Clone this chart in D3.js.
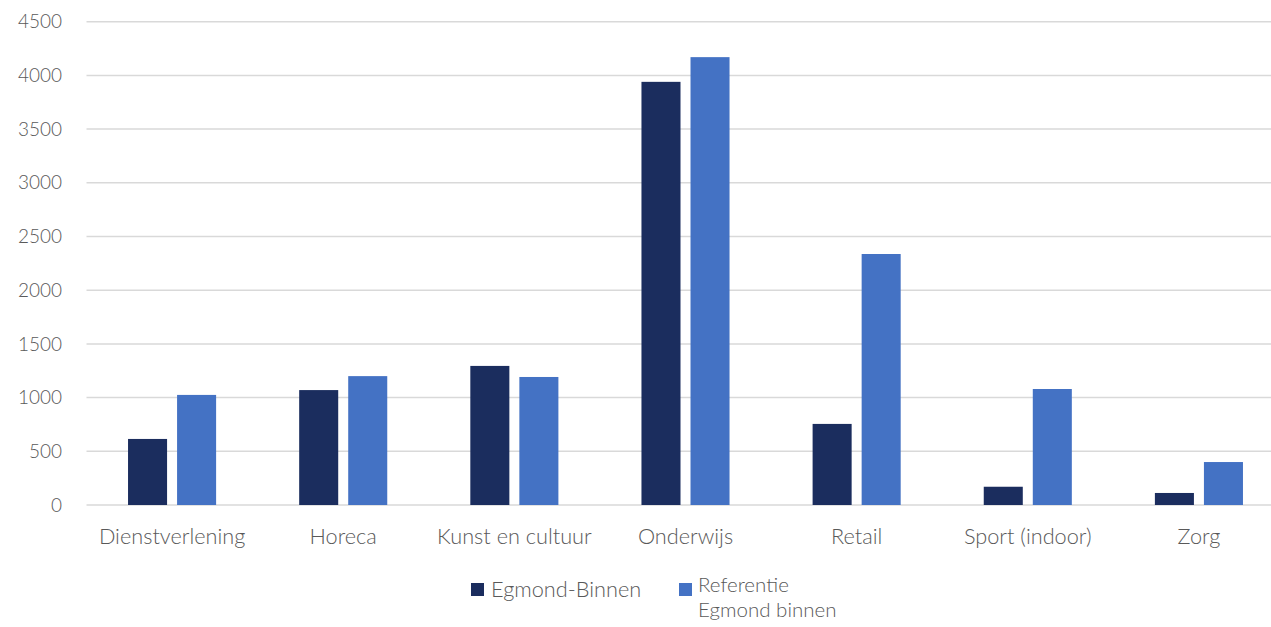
<!DOCTYPE html>
<html>
<head>
  <meta charset="utf-8">
  <title>Egmond-Binnen bar chart</title>
  <script src="https://d3js.org/d3.v7.min.js"></script>
  <style>
    body { margin: 0; background: #fff; }
    text { font-family: Lato, "Open Sans", sans-serif; font-weight: 300; fill: #595959; }
  </style>
</head>
<body>
<script>
  // data
  var categories = ["Dienstverlening", "Horeca", "Kunst en cultuur", "Onderwijs", "Retail", "Sport (indoor)", "Zorg"];
  var series = ["Egmond-Binnen", "Referentie Egmond binnen"];
  var egmondBinnen = [615, 1070, 1295, 3940, 755, 170, 112];
  var referentie = [1025, 1200, 1192, 4170, 2337, 1080, 400];
  var yTicks = [0, 500, 1000, 1500, 2000, 2500, 3000, 3500, 4000, 4500];
  var colors = ["#1b2d5e", "#4472c4"];

  var width = 1271, height = 627;
  var svg = d3.select("body").append("svg").attr("width", width).attr("height", height);

  var rows = categories.map(function(c, i) {
    return { cat: c, vals: [egmondBinnen[i], referentie[i]] };
  });

  var x0 = d3.scaleBand().domain(categories).range([86.5, 1284.5])
    .paddingInner(83 / 171).paddingOuter(83 / 342);
  var x1 = d3.scaleBand().domain([0, 1]).range([0, x0.bandwidth()]).paddingInner(0.204);
  var y = d3.scaleLinear().domain([0, 4500]).range([505, 21.7]);

  // gridlines
  svg.append("g").selectAll("line").data(yTicks).enter().append("line")
    .attr("x1", 86.5).attr("x2", width)
    .attr("y1", function(d) { return y(d); }).attr("y2", function(d) { return y(d); })
    .attr("stroke", "#d9d9d9").attr("stroke-width", 1.5);

  // y tick labels
  svg.append("g").selectAll("text").data(yTicks).enter().append("text")
    .attr("x", 62).attr("y", function(d) { return y(d); })
    .attr("dy", "0.35em").attr("text-anchor", "end")
    .style("font-size", "19px")
    .text(function(d) { return d; });

  // bars
  var groups = svg.append("g").selectAll("g").data(rows).enter().append("g")
    .attr("transform", function(d) { return "translate(" + x0(d.cat) + ",0)"; });
  groups.selectAll("rect").data(function(d) { return d.vals; }).enter().append("rect")
    .attr("x", function(d, i) { return x1(i); })
    .attr("width", x1.bandwidth())
    .attr("y", function(d) { return y(d); })
    .attr("height", function(d) { return y(0) - y(d); })
    .attr("fill", function(d, i) { return colors[i]; });

  // category labels
  svg.append("g").selectAll("text").data(categories).enter().append("text")
    .attr("x", function(d) { return x0(d) + x0.bandwidth() / 2; })
    .attr("y", 536).attr("dy", "0.35em").attr("text-anchor", "middle")
    .style("font-size", "21.7px")
    .text(function(d) { return d; });

  // legend
  var legend = svg.append("g");
  legend.append("rect").attr("x", 471).attr("y", 583).attr("width", 13).attr("height", 13).attr("fill", colors[0]);
  legend.append("text").attr("x", 491).attr("y", 589).attr("dy", "0.35em").style("font-size", "21.7px").text(series[0]);
  legend.append("rect").attr("x", 679).attr("y", 583).attr("width", 13).attr("height", 13).attr("fill", colors[1]);
  legend.append("text").attr("x", 698).attr("y", 592).style("font-size", "20.5px").text("Referentie");
  legend.append("text").attr("x", 698).attr("y", 617).style("font-size", "20.5px").text("Egmond binnen");
</script>
</body>
</html>
